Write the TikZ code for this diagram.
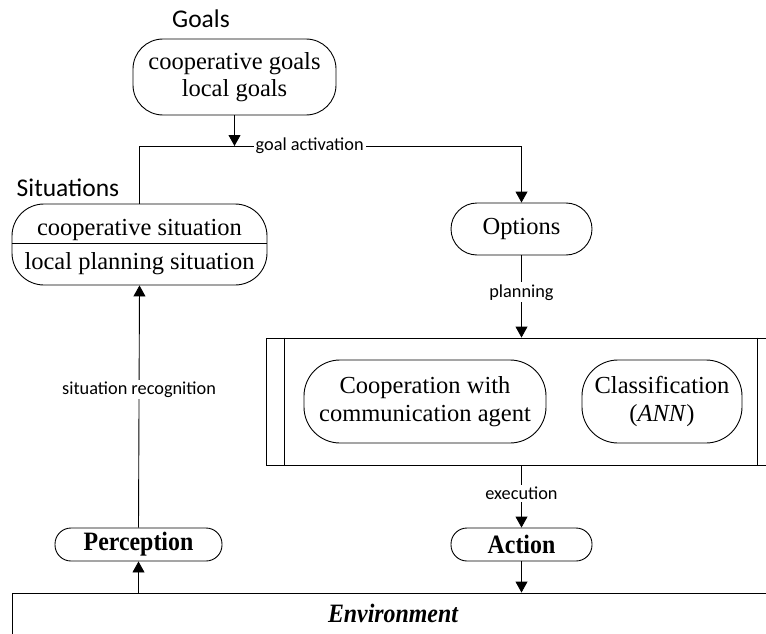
\documentclass[tikz,border=0pt]{standalone}
\usepackage{fontspec}
\setmainfont{Liberation Serif}
\newfontfamily\labelfont{Carlito}
\newfontfamily\narrowserif[FakeStretch=0.9]{Liberation Serif}
\usetikzlibrary{arrows.meta}

\newcommand{\boxfont}{\fontsize{24.5}{27.5}\selectfont}
\newcommand{\tallfont}{\narrowserif\fontsize{26.5}{29}\selectfont}
\newcommand{\headfont}{\labelfont\fontsize{25.5}{28}\selectfont}
\newcommand{\edgefont}{\labelfont\fontsize{18.3}{20}\selectfont}

\tikzset{
  stadium/.style={draw, line width=0.9pt, align=center, font=\boxfont, inner sep=0pt},
  plain/.style={inner sep=0pt},
  heading/.style={inner sep=0pt, font=\headfont},
  edgelabel/.style={fill=white, inner sep=2pt, font=\edgefont},
  link/.style={line width=0.9pt},
  arrow/.style={line width=0.9pt, -{Triangle[width=12pt,length=11pt]}},
}

\begin{document}
\begin{tikzpicture}[x=1pt,y=-1pt]
\useasboundingbox (0,0) rectangle (766,634);
\begin{scope}
\clip (0,0) rectangle (766,634);

% headings
\node[heading, anchor=base] (goalshead) at (201,28) {Goals};
\node[heading, anchor=base] (sithead) at (68,196) {Situations};

% goals
\node[stadium, rounded corners=30pt, minimum width=203pt, minimum height=76pt]
  (goals) at (234.5,77) {cooperative goals\\local goals};

% situations, split in two
\node[stadium, rounded corners=32pt, minimum width=255pt, minimum height=81pt]
  (sit) at (139.5,244.5) {};
\draw[link] (sit.west |- 0,243) -- (sit.east |- 0,243);
\node[plain, anchor=base, font=\boxfont] (sitcoop) at (139.5,235) {cooperative situation};
\node[plain, anchor=base, font=\boxfont] (sitlocal) at (139.5,269) {local planning situation};

% options
\node[stadium, rounded corners=26pt, minimum width=141pt, minimum height=52pt]
  (opt) at (521.5,229) {Options};

% planning process box with its two inner bars
\node[draw, line width=0.9pt, minimum width=510pt, minimum height=127pt, inner sep=0pt]
  (proc) at (521,401.5) {};
\draw[link] ([xshift=19pt]proc.north west) -- ([xshift=19pt]proc.south west);
\draw[link] ([xshift=-19pt]proc.north east) -- ([xshift=-19pt]proc.south east);

\node[stadium, rounded corners=36pt, minimum width=242pt, minimum height=83pt]
  (coop) at (425,401.5) {Cooperation with\\communication agent};
\node[stadium, rounded corners=36pt, minimum width=160pt, minimum height=83pt]
  (classif) at (662,401.5) {Classification\\(\textit{ANN})};

% perception and action
\node[stadium, rounded corners=16pt, minimum width=167pt, minimum height=33pt,
  font=\tallfont\bfseries] (perc) at (138.5,544.5) {Perception};
\node[stadium, rounded corners=16pt, minimum width=141pt, minimum height=33pt,
  font=\tallfont\bfseries] (act) at (521.5,544.5) {Action};

% environment
\node[draw, line width=0.9pt, minimum width=768pt, minimum height=70pt, inner sep=0pt]
  (env) at (396,628) {};
\node[plain, anchor=base, font=\tallfont\bfseries\itshape] (envtext) at (393,622) {Environment};

% connectors
\coordinate (ga) at (234.5,146);
\draw[arrow] (goals.south) -- (ga);
\draw[link] (sit.north) |- (ga);
\draw[arrow] (ga) -| node[edgelabel, pos=0.131] {goal activation} (opt.north);
\draw[arrow] (opt.south) -- node[edgelabel, pos=0.45] {planning} (opt.south |- proc.north);
\draw[arrow] (opt.south |- proc.south) -- node[edgelabel, pos=0.45] {execution} (act.north);
\draw[arrow] (act.south) -- (act.south |- env.north);
\draw[arrow] (perc.south |- env.north) -- (perc.south);
\draw[arrow] (perc.north) -- node[edgelabel, pos=0.57] {situation recognition} (sit.south);
\end{scope}
\end{tikzpicture}
\end{document}
